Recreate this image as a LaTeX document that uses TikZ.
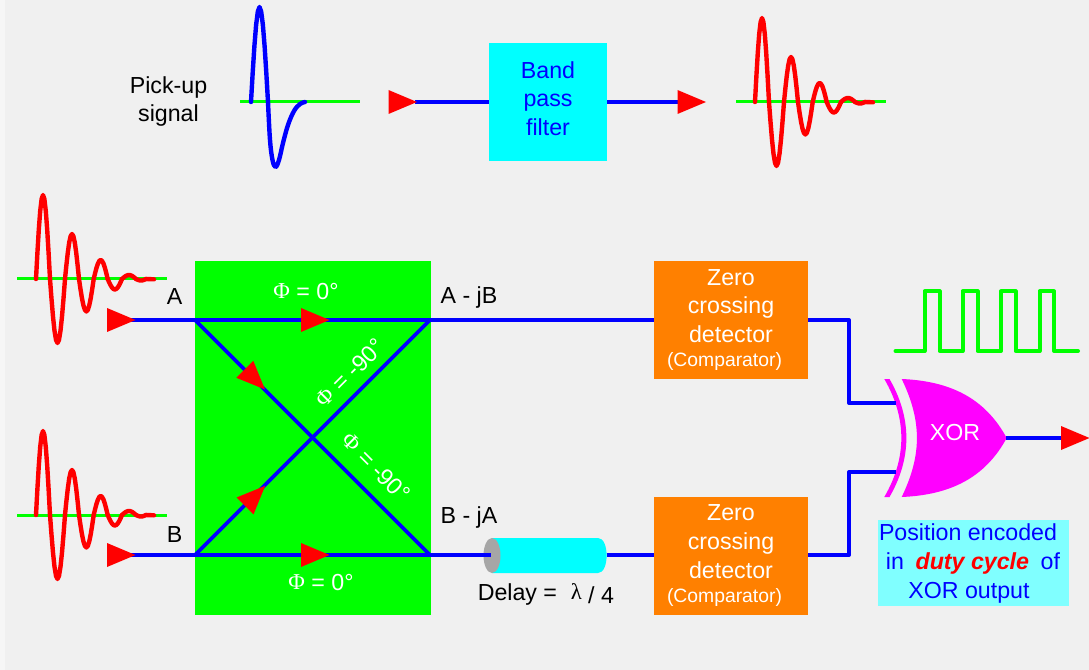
\documentclass[tikz,border=0pt]{standalone}
\usepackage{fontspec}
\setmainfont{Liberation Sans}
\newfontfamily\symfont{Liberation Serif}
\usetikzlibrary{calc}
\definecolor{bggray}{HTML}{F0F0F0}
\definecolor{stripgray}{HTML}{F6F6F6}
\definecolor{boxorange}{HTML}{FF8000}
\definecolor{capgray}{HTML}{A6A6A6}
\definecolor{purecyan}{HTML}{00FFFF}
\definecolor{palecyan}{HTML}{80FFFF}
\definecolor{puremagenta}{HTML}{FF00FF}
\tikzset{
  x=0.75pt,y=-0.75pt,
  wire/.style={draw=blue,line width=3pt,line join=miter},
  axisline/.style={draw=green,line width=2.25pt},
  redwave/.style={draw=red,line width=3.3pt,line cap=round,line join=round},
  bluewave/.style={draw=blue,line width=3.3pt,line cap=round,line join=round},
  squarewave/.style={draw=green,line width=3pt,line cap=round,line join=round},
  txt/.style={font=\fontsize{17.4}{21.5}\selectfont,text=black,align=center,inner sep=0pt},
  wtxt/.style={txt,text=white},
  filterbox/.style={fill=purecyan,draw=none,minimum width=88.5pt,minimum height=88.5pt,inner sep=0pt},
  zerobox/.style={fill=boxorange,draw=none,minimum width=115.5pt,minimum height=88.5pt,inner sep=0pt},
  tri/.style={fill=red,draw=none}
}
\newcommand{\arrowhead}[3]{\fill[tri,shift={(#1,#2)},rotate=#3] (0,-12) -- (28.5,0) -- (0,12) -- cycle;}
\newcommand{\phisym}{{\symfont\fontsize{17}{18}\selectfont\raisebox{1pt}{Φ}}}
% half sine: start x offset, width, signed amplitude (positive goes up)
\newcommand{\halfwave}[6]{\draw[#6] plot[domain=0:180,samples=11] ({#1+#3+#4*\x/180},{#2-(#5)*sin(\x)});}
\newcommand{\dampedwave}[2]{%
  \draw[axisline] (#1-19,#2) -- (#1+131,#2);
  \foreach \st/\wd/\am in {0/14/84,14/15/-64,29/14/45,43/14.7/-32.5,57.7/14/19,71.7/14.3/-10.5,86/14/4,100/10/-1.5}{%
    \halfwave{#1}{#2}{\st}{\wd}{\am}{redwave}}
  \draw[redwave] (#1+110,#2) -- (#1+118,#2+0.3);
}
\begin{document}
\begin{tikzpicture}
\useasboundingbox (0,0) rectangle (1089,670);
\fill[stripgray] (0,0) rectangle (1089,670);
\fill[bggray] (5,0) rectangle (1089,670);

% top row
\node[txt] (pick) at (168.5,101.5) {Pick-up\\signal};
\coordinate (pulseL) at (240,102);
\coordinate (pulseR) at (360,102);
\draw[axisline] (pulseL) -- (pulseR);
\halfwave{251}{102}{0}{17}{95}{bluewave}
\draw[bluewave] plot[smooth,tension=0.6] coordinates {(268,102) (270,140) (272.5,160) (275.5,167) (279,160) (283,143) (288,125) (294,111) (300,104) (305,102)};
\node[filterbox] (bpf) at (548,102) {};
\node[txt,text=blue] (bpftxt) at (548,98.5) {Band\\pass\\filter};
\coordinate (inT) at (415,102);
\coordinate (outT) at (680,102);
\draw[wire] (inT) -- (bpf.west);
\draw[wire] (bpf.east) -- (outT);
\arrowhead{388.5}{102}{0}
\arrowhead{677.5}{102}{0}
\dampedwave{755}{102}

% inputs
\dampedwave{36}{279}
\dampedwave{36}{515}
\node[txt] (lA) at (174.5,297) {A};
\node[txt] (lB) at (174.5,535) {B};

% coupler
\node[fill=green,draw=none,minimum width=177pt,minimum height=265.5pt,inner sep=0pt] (coupler) at (313,438) {};
\coordinate (ai) at (130,320);
\coordinate (bi) at (130,555);
\coordinate (cTL) at (195,320);
\coordinate (cTR) at (430,320);
\coordinate (cBL) at (195,555);
\coordinate (cBR) at (430,555);
\draw[wire] (ai) -- (cTL) -- (cTR);
\draw[wire] (bi) -- (cBL) -- (cBR);
\draw[wire,line width=2.8pt] (cTL) -- (cBR);
\draw[wire,line width=2.8pt] (cBL) -- (cTR);
\arrowhead{107}{320}{0}
\arrowhead{107}{555}{0}
\arrowhead{301}{320}{0}
\arrowhead{301}{555}{0}
\arrowhead{244.8}{369.3}{-45}
\arrowhead{245}{506}{45}
\node[wtxt] (p1) at (306,292) {\phisym\ = 0°};
\node[wtxt] (p2) at (321,582.5) {\phisym\ = 0°};
\node[wtxt,rotate=45] (p3) at (350,373) {\phisym\ = -90°};
\node[wtxt,rotate=-45] (p4) at (376,467.5) {\phisym\ = -90°};
\node[txt] (lAB) at (469,298) {A - jB};
\node[txt] (lBA) at (469,518) {B - jA};

% zero-crossing detectors
\node[zerobox] (zc1) at (731,320) {};
\node[zerobox] (zc2) at (731,556) {};
\node[wtxt] (zt1) at (731,306) {Zero\\crossing\\detector};
\node[wtxt,font=\fontsize{14.5}{16}\selectfont] (zs1) at (724.5,362) {(Comparator)};
\node[wtxt] (zt2) at (731,541.5) {Zero\\crossing\\detector};
\node[wtxt,font=\fontsize{14.5}{16}\selectfont] (zs2) at (724.5,597) {(Comparator)};
\draw[wire] (cTR) -- (zc1.west);

% delay line
\coordinate (dL) at (492,555.5);
\coordinate (dR) at (606.5,555);
\fill[purecyan] (492,538) -- (598,538) .. controls (609.5,538) and (609.5,573) .. (598,573) -- (492,573) -- cycle;
\fill[capgray] (dL) ellipse[x radius=8.5,y radius=17.5];
\draw[wire] (cBR) -- (491,555);
\draw[wire] (dR) -- (zc2.west |- cBR);
\node[txt,anchor=west] (dly) at (477.5,594) {Delay =};
\node[txt,anchor=west] (lam) at (570.5,594) {{\symfont\fontsize{17}{18}\selectfont\raisebox{3pt}{λ}} / 4};

% gate
\fill[puremagenta] (901.7,379) .. controls (950,381) and (985,398) .. (1006.7,438) .. controls (985,478) and (950,495) .. (901.7,497) .. controls (922,455) and (922,421) .. (901.7,379) -- cycle;
\fill[puremagenta] (884.3,379) -- (889.5,379) .. controls (912,418) and (912,458) .. (889.5,497) -- (884.3,497) .. controls (907,458) and (907,418) .. (884.3,379) -- cycle;
\coordinate (g1) at (896,403);
\coordinate (g2) at (896,472);
\coordinate (gout) at (1006,438);
\coordinate (gend) at (1064,438);
\node[wtxt] (xor) at (955,433) {XOR};
\draw[wire,line join=round] (zc1.east) -- (849,320) -- (849,403) -- (g1);
\draw[wire,line join=round] (zc2.east |- cBR) -- (849,555) -- (849,472) -- (g2);
\draw[wire] (gout) -- (gend);
\arrowhead{1061}{438}{0}
\draw[squarewave] (895.5,351) -- (924.5,351) -- (924.5,291.5) -- (939.5,291.5) -- (939.5,351) -- (962.5,351) -- (962.5,291.5) -- (977.5,291.5) -- (977.5,351) -- (1001,351) -- (1001,291.5) -- (1015.5,291.5) -- (1015.5,351) -- (1039.5,351) -- (1039.5,291.5) -- (1054,291.5) -- (1054,351) -- (1078,351);

% note
\node[fill=palecyan,draw=none,minimum width=143.5pt,minimum height=64.5pt,inner sep=0pt] (note) at (973.8,563) {};
\node[txt,text=blue] (n1) at (968,532.5) {Position encoded};
\node[txt,text=blue] (n2) at (973,563) {in\hspace{0.5em}{\color{red}\bfseries\itshape duty cycle}\hspace{0.5em}of};
\node[txt,text=blue] (n3) at (969,592.5) {XOR output};
\end{tikzpicture}
\end{document}
